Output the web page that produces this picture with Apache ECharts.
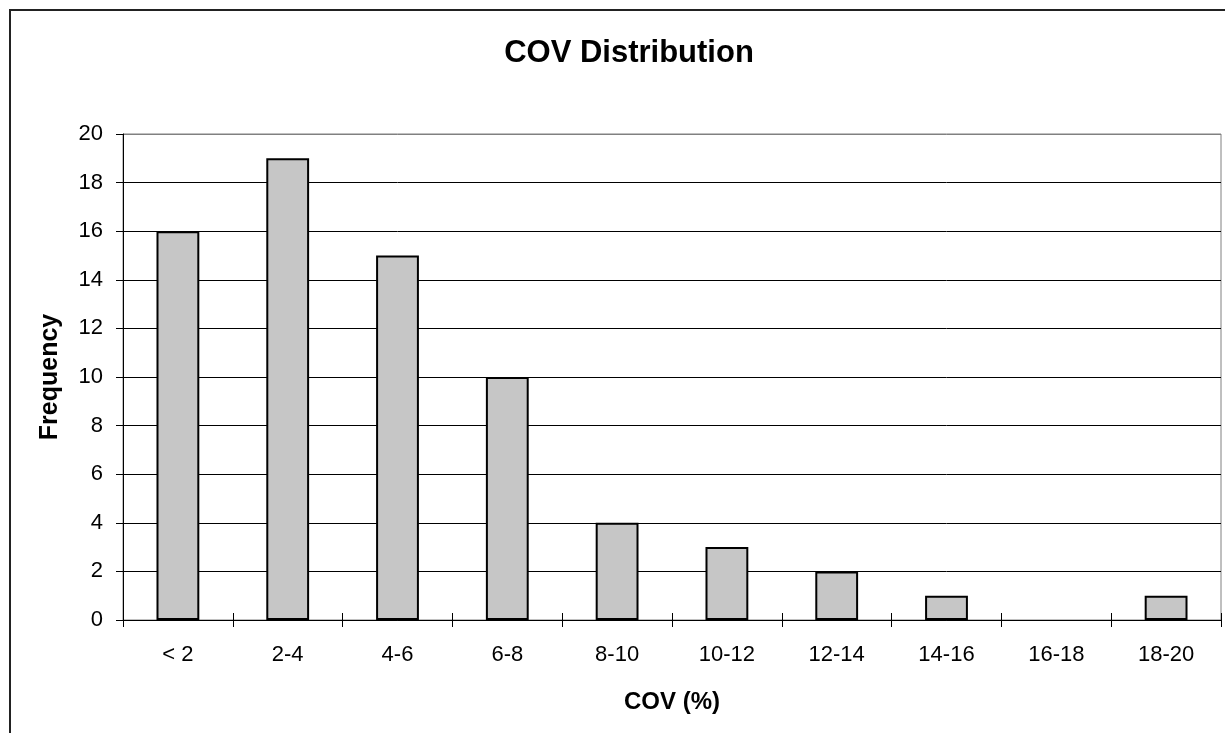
<!DOCTYPE html>
<html>
<head>
<meta charset="utf-8">
<script src="https://cdn.jsdelivr.net/npm/echarts@6/dist/echarts.min.js"></script>
<style>
html,body{margin:0;padding:0;background:#fff;}
#chart{width:1225px;height:733px;}
</style>
</head>
<body>
<div id="chart"></div>
<script>
const categories = ['< 2', '2-4', '4-6', '6-8', '8-10', '10-12', '12-14', '14-16', '16-18', '18-20'];
const frequency = [16, 19, 15, 10, 4, 3, 2, 1, 0, 1];
const yTicks = [0, 2, 4, 6, 8, 10, 12, 14, 16, 18, 20];

const FONT = "'Liberation Sans', Arial, sans-serif";
const chart = echarts.init(document.getElementById('chart'), null, {renderer: 'canvas'});

const gridColors = yTicks.map((v, i) => i === yTicks.length - 1 ? '#808080' : '#000');
const barData = frequency.map(v => v === 0 ? {value: v, itemStyle: {borderWidth: 0}} : v);

chart.setOption({
  animation: false,
  backgroundColor: '#fff',
  title: {
    text: 'COV Distribution',
    left: 624,
    top: 33,
    textAlign: 'center',
    textStyle: {fontFamily: FONT, fontSize: 31, fontWeight: 'bold', color: '#000'}
  },
  graphic: [{
    type: 'rect',
    shape: {x: 10, y: 10, width: 1300, height: 800},
    style: {fill: 'none', stroke: '#222', lineWidth: 2},
    silent: true
  }],
  grid: {
    left: 123, right: 4, top: 134, bottom: 113,
    show: true, borderColor: '#808080', borderWidth: 1, backgroundColor: 'transparent'
  },
  xAxis: [{
    type: 'category',
    data: categories,
    boundaryGap: true,
    name: 'COV (%)',
    nameLocation: 'middle',
    nameGap: 70,
    nameTextStyle: {fontFamily: FONT, fontSize: 24, fontWeight: 'bold', color: '#000'},
    axisLine: {show: true, lineStyle: {color: '#000', width: 1}},
    axisTick: {show: true, alignWithLabel: false, length: 7, lineStyle: {color: '#000'}},
    axisLabel: {fontFamily: FONT, fontSize: 22, color: '#000', margin: 24, interval: 0}
  }, {
    type: 'category',
    data: categories,
    position: 'bottom',
    boundaryGap: true,
    axisLine: {show: false},
    axisTick: {show: true, inside: true, length: 7, lineStyle: {color: '#000'}},
    axisLabel: {show: false}
  }],
  yAxis: {
    type: 'value',
    min: 0, max: 20, interval: 2,
    name: 'Frequency',
    nameLocation: 'middle',
    nameRotate: 90,
    nameGap: 60,
    nameTextStyle: {fontFamily: FONT, fontSize: 25, fontWeight: 'bold', color: '#000'},
    axisLine: {show: true, lineStyle: {color: '#000', width: 1}},
    axisTick: {show: true, length: 7, lineStyle: {color: '#000'}},
    axisLabel: {fontFamily: FONT, fontSize: 22, color: '#000', margin: 20},
    splitLine: {show: true, lineStyle: {color: gridColors, width: 1}}
  },
  series: [{
    type: 'bar',
    data: barData,
    barWidth: '39%',
    itemStyle: {color: '#C6C6C6', borderColor: '#000', borderWidth: 2}
  }]
});
</script>
</body>
</html>
